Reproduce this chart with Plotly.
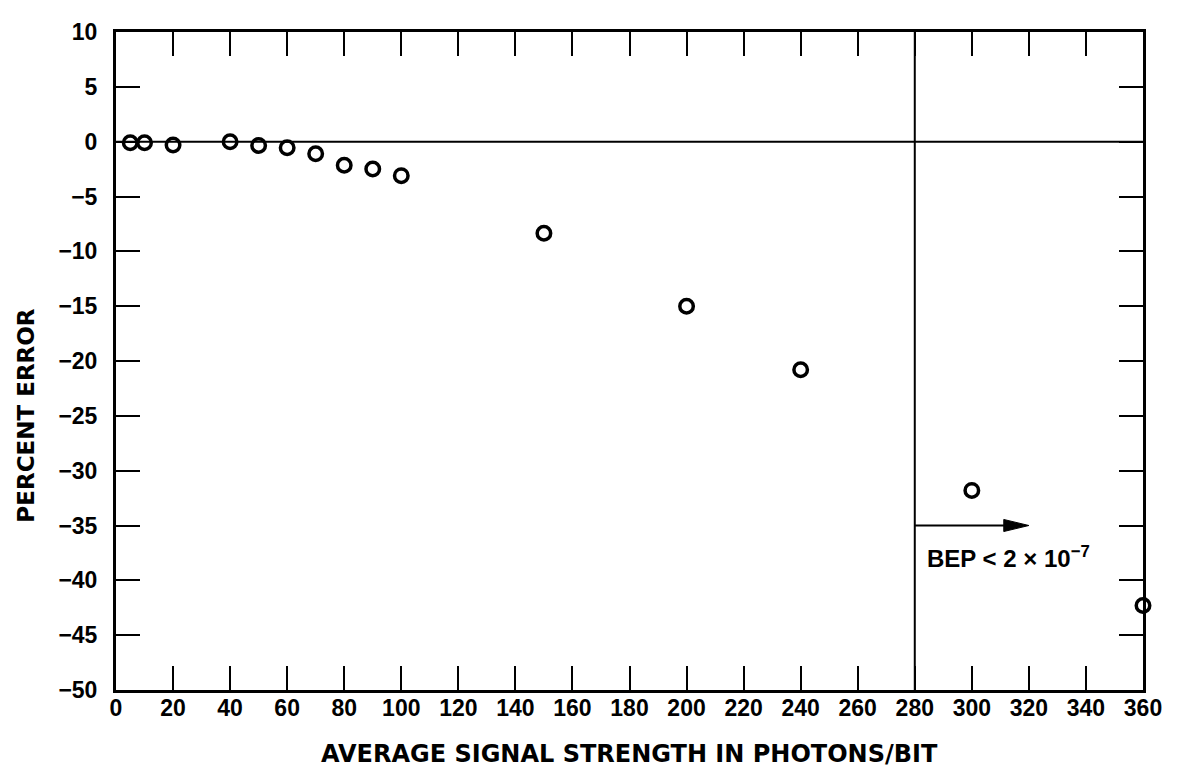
import plotly.graph_objects as go

# Data
signal_photons = [5, 10, 20, 40, 50, 60, 70, 80, 90, 100, 150, 200, 240, 300, 360]
percent_error = [-0.1, -0.1, -0.3, 0.0, -0.35, -0.55, -1.1, -2.15, -2.5, -3.1,
                 -8.35, -15.0, -20.8, -31.8, -42.3]

x_ticks = list(range(0, 361, 20))
y_ticks = list(range(-50, 11, 5))

bep_threshold_x = 280
arrow_end_x = 320
arrow_y = -35
label_y = -37.9
head_len = 8.8     # arrow head length in x units
head_half = 0.55   # arrow head half-width in y units

FONT = "Liberation Sans"
TITLE_FONT = "DejaVu Sans"

fig = go.Figure()

fig.add_trace(go.Scatter(
    x=signal_photons, y=percent_error, mode="markers",
    marker=dict(symbol="circle-open", size=13.5, color="black",
                line=dict(color="black", width=3.5)),
    showlegend=False, cliponaxis=False,
))

axis_common = dict(
    showgrid=False, zeroline=False, showline=True, linecolor="black",
    linewidth=3, mirror="ticks", ticks="inside", ticklen=24, tickwidth=2,
    tickcolor="black",
    tickfont=dict(family=FONT, size=23, color="black", weight="bold"),
)

fig.update_xaxes(range=[0, 360], tickvals=x_ticks, ticklabelstandoff=-5, **axis_common)
fig.update_yaxes(range=[-50, 10], tickvals=y_ticks, ticklabelstandoff=11, **axis_common)

# zero line and threshold line
fig.add_shape(type="line", x0=0, x1=360, y0=0, y1=0, xref="x", yref="y",
              line=dict(color="black", width=2))
fig.add_shape(type="line", x0=bep_threshold_x, x1=bep_threshold_x, y0=-50, y1=10,
              xref="x", yref="y", line=dict(color="black", width=2))

# arrow: shaft + slim filled head
fig.add_shape(type="line", x0=bep_threshold_x, x1=arrow_end_x - head_len / 2,
              y0=arrow_y, y1=arrow_y, xref="x", yref="y",
              line=dict(color="black", width=2.2))
fig.add_shape(type="path", xref="x", yref="y",
              path=(f"M {arrow_end_x - head_len},{arrow_y - head_half} "
                    f"L {arrow_end_x},{arrow_y} "
                    f"L {arrow_end_x - head_len},{arrow_y + head_half} Z"),
              fillcolor="black", line=dict(color="black", width=1))

fig.add_annotation(x=bep_threshold_x + 3.5, y=label_y, xref="x", yref="y",
                   xanchor="left", yanchor="middle", showarrow=False,
                   text="BEP &lt; 2 × 10<sup>−7</sup>",
                   font=dict(family=FONT, size=24, color="black", weight="bold"))

# axis titles
fig.add_annotation(x=0.5, y=-0.098, xref="paper", yref="paper", showarrow=False,
                   text="AVERAGE SIGNAL STRENGTH IN PHOTONS/BIT",
                   xanchor="center", yanchor="middle",
                   font=dict(family=TITLE_FONT, size=24, color="black", weight="bold"))
fig.add_annotation(x=-0.0876, y=0.417, xref="paper", yref="paper", showarrow=False,
                   text="PERCENT ERROR", textangle=-90,
                   xanchor="center", yanchor="middle",
                   font=dict(family=TITLE_FONT, size=23, color="black", weight="bold"))

# page body has an 8px default margin, so the figure is sized to fit the window
fig.update_layout(
    width=1171, height=762,
    margin=dict(l=108, r=36, t=11, b=80),
    paper_bgcolor="white", plot_bgcolor="white",
    font=dict(family=FONT, color="black"),
)

fig.write_html("out.html")
